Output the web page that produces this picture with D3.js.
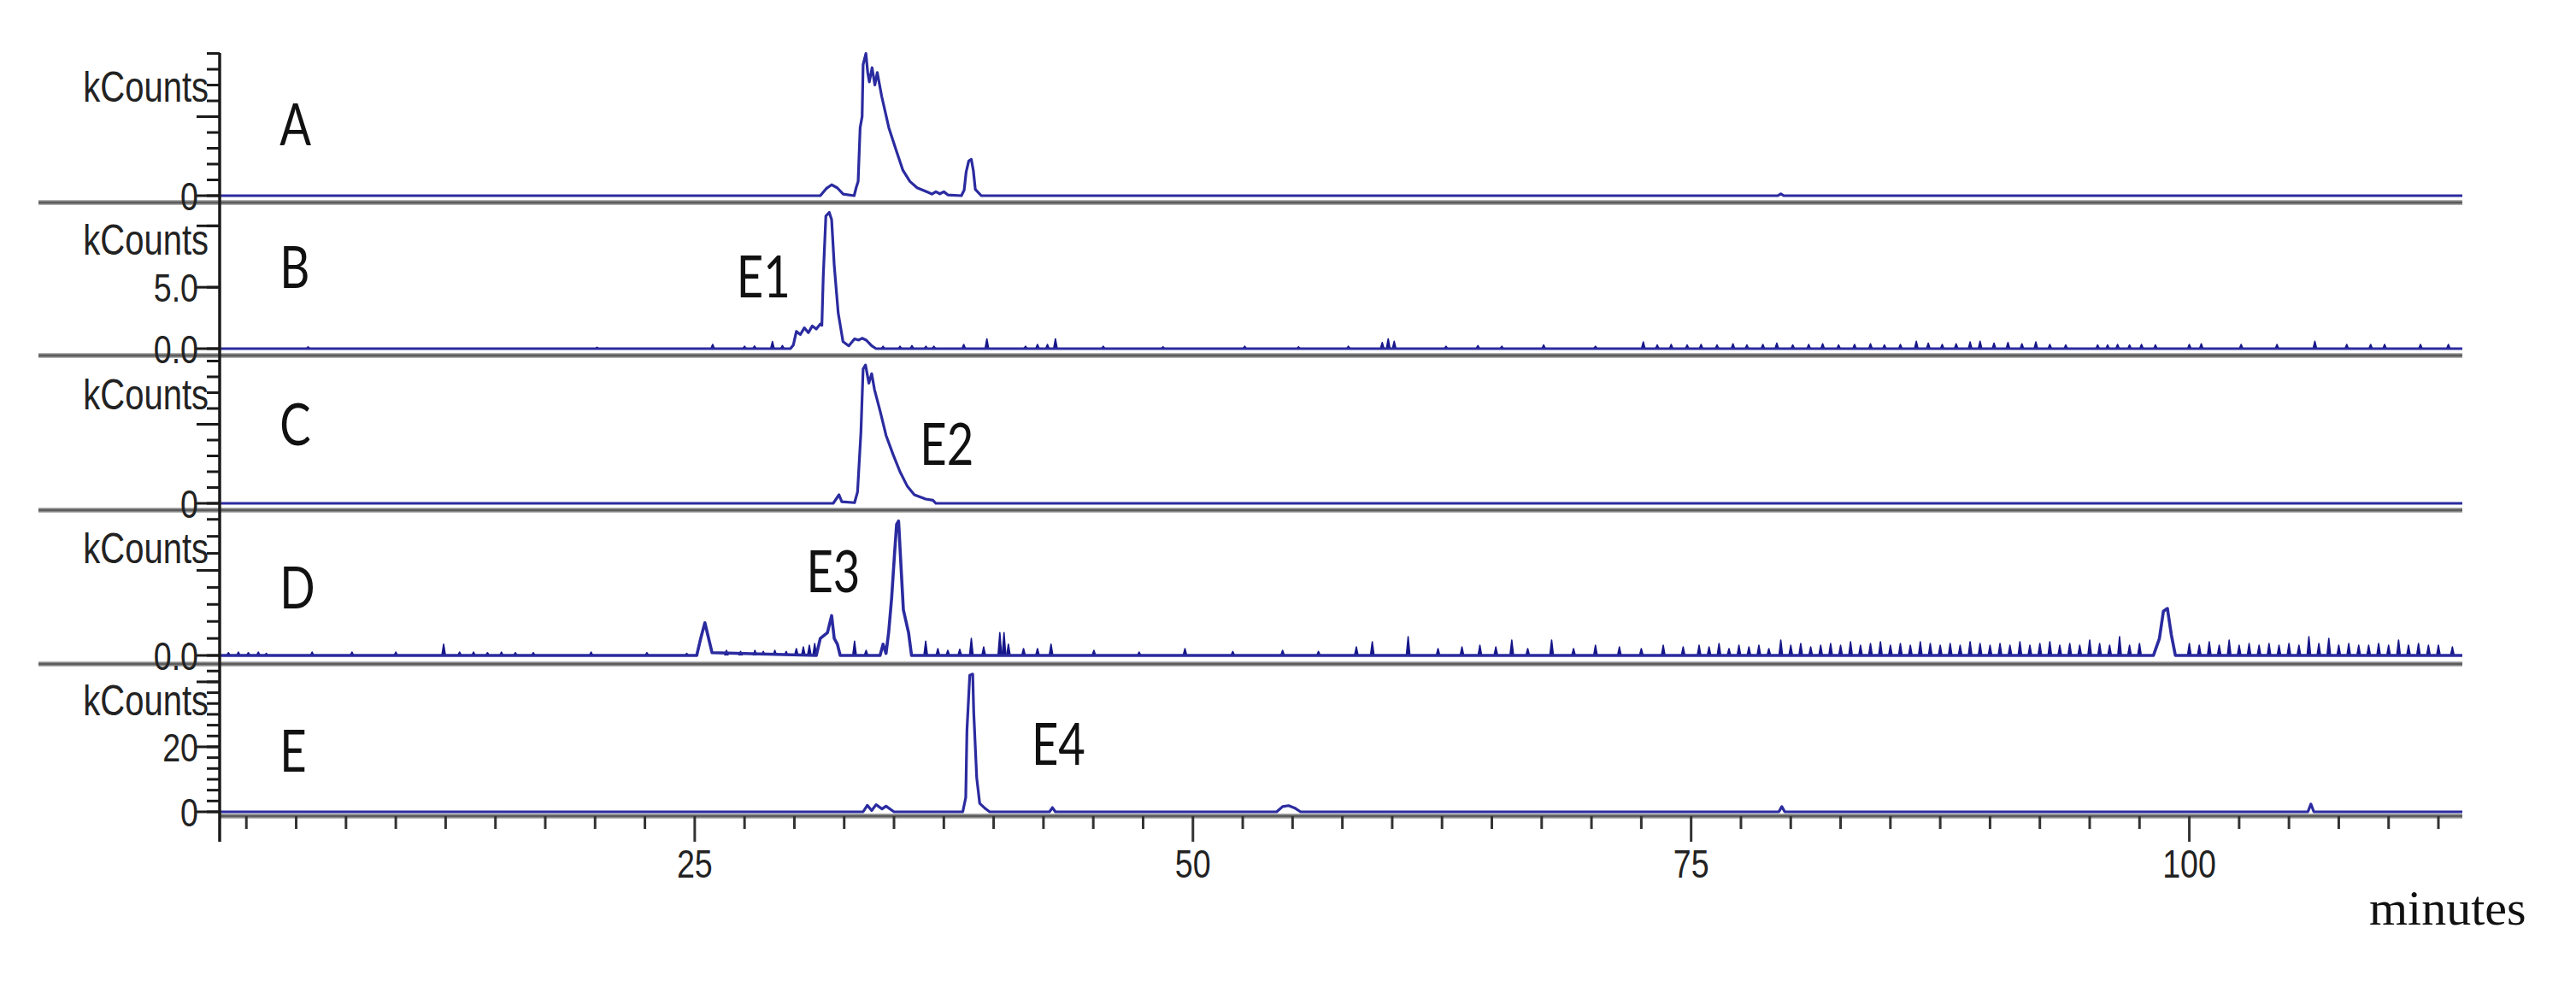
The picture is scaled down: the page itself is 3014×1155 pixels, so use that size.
<!DOCTYPE html>
<html>
<head>
<meta charset="utf-8">
<script src="https://cdn.jsdelivr.net/npm/d3@7"></script>
<style>
  html, body { margin: 0; padding: 0; background: #fff; }
  svg { display: block; }
</style>
</head>
<body>
<div id="chart"></div>
<script>
// Chromatogram traces, points are [minutes, kCounts]
const panelNames = ["A", "B", "C", "D", "E"]
const yMaxes = [9.03, 11.9, 9.35, 4.27, 45.5]

const traceA = [[1.16,0],[31.3,0],[31.6,0.45],[31.87,0.69],[32.15,0.5],[32.45,0.1],[33.0,0],[33.1,0.5],[33.2,0.9],
  [33.3,4.3],[33.4,5.0],[33.45,8.3],[33.59,9.0],[33.68,7.8],[33.76,7.2],[33.9,8.1],[34.04,7.0],[34.16,7.8],
  [34.38,6.3],[34.74,4.3],[35.1,2.9],[35.45,1.6],[35.8,0.9],[36.16,0.5],[36.73,0.2],[36.9,0.1],[37.1,0.25],
  [37.3,0.12],[37.5,0.25],[37.7,0.05],[38.38,0],[38.52,0.35],[38.62,1.5],[38.75,2.2],[38.88,2.3],[38.98,1.6],
  [39.08,0.4],[39.38,0],[79.35,0],[79.5,0.12],[79.65,0],[113.7,0]]

const traceB = [[1.16,0],[29.8,0],[29.95,0.3],[30.1,1.4],[30.3,1.15],[30.5,1.7],[30.7,1.3],[30.9,1.85],[31.1,1.6],
  [31.3,2.0],[31.38,1.9],[31.45,5.9],[31.58,10.8],[31.75,11.1],[31.87,10.5],[32.0,6.8],[32.2,2.9],[32.44,0.58],
  [32.73,0.23],[33.02,0.8],[33.23,0.7],[33.4,0.85],[33.6,0.7],[33.88,0.23],[34.1,0],[113.7,0]]

const traceC = [[1.16,0],[31.95,0],[32.24,0.54],[32.38,0.1],[33.02,0.04],[33.17,0.72],[33.34,4.5],[33.45,8.5],
  [33.57,8.75],[33.74,7.6],[33.88,8.2],[34.02,7.2],[34.31,5.8],[34.6,4.3],[34.95,3.1],[35.3,2.0],[35.66,1.1],
  [36.02,0.54],[36.59,0.27],[36.95,0.2],[37.1,0],[113.7,0]]

const traceD = [[1.16,0],[25.1,0],[25.3,0.5],[25.51,0.96],[25.73,0.42],[25.87,0.08],[31.1,0],[31.3,0.5],[31.66,0.67],
  [31.87,1.17],[32.0,0.5],[32.16,0.33],[32.3,0],[34.3,0],[34.45,0.33],[34.6,0.06],[34.73,0.67],[34.88,1.68],
  [35.02,2.93],[35.13,3.85],[35.23,3.95],[35.33,2.85],[35.47,1.34],[35.73,0.67],[35.88,0],[98.2,0],[98.5,0.5],
  [98.7,1.3],[98.9,1.38],[99.1,0.6],[99.3,0],[113.7,0]]

const traceE = [[1.16,0],[33.45,0],[33.66,2.0],[33.88,0.4],[34.1,2.2],[34.4,0.9],[34.6,1.75],[35.0,0],[38.45,0],
  [38.6,4.4],[38.66,25],[38.8,42],[38.95,42.4],[39.0,30.7],[39.15,10.5],[39.3,2.6],[39.6,0.9],[39.8,0],[42.8,0],
  [42.95,1.3],[43.1,0],[54.2,0],[54.5,1.6],[54.8,1.9],[55.1,1.2],[55.4,0],[79.4,0],[79.55,1.6],[79.7,0],
  [105.95,0],[106.1,2.4],[106.25,0],[113.7,0]]

// noise spikes on the baseline: [minutes, kCounts]
const spikesB = [[5.6,0.15],[20.1,0.12],[25.9,0.35],[27.5,0.2],[28.0,0.22],[28.9,0.58],[29.4,0.25],[34.45,0.2],
  [35.3,0.2],[35.9,0.25],[36.6,0.2],[37.0,0.2],[38.5,0.35],[39.66,0.8],[41.6,0.2],[42.2,0.35],[42.7,0.35],[43.1,0.8],
  [45.5,0.2],[48.5,0.15],[52.6,0.2],[55.3,0.15],[57.8,0.2],[59.5,0.5],[59.8,0.8],[60.1,0.6],[62.7,0.2],[64.3,0.25],
  [65.5,0.2],[67.6,0.3],[70.2,0.2],[72.6,0.55],[73.3,0.3],[74.0,0.35],[74.8,0.3],[75.5,0.35],[76.3,0.3],[77.1,0.4],
  [77.8,0.3],[78.6,0.35],[79.3,0.45],[80.1,0.3],[80.9,0.35],[81.6,0.4],[82.4,0.3],[83.2,0.35],[84.0,0.4],[84.7,0.3],
  [85.5,0.35],[86.3,0.6],[86.9,0.45],[87.6,0.35],[88.3,0.4],[89.0,0.55],[89.5,0.6],[90.2,0.45],[90.9,0.5],[91.6,0.4],
  [92.3,0.55],[93.0,0.35],[93.8,0.3],[95.4,0.3],[95.9,0.3],[96.4,0.35],[97.0,0.3],[97.6,0.35],[98.3,0.3],[100.0,0.35],
  [100.6,0.4],[102.6,0.35],[104.4,0.35],[106.3,0.6],[107.9,0.35],[109.1,0.35],[109.8,0.35],[111.6,0.35],[113.0,0.35]]

const spikesD = [[1.6,0.08],[2.1,0.1],[2.6,0.08],[3.1,0.1],[3.5,0.06],[5.8,0.1],[7.8,0.1],[10.0,0.1],[12.4,0.33],
  [13.2,0.1],[13.9,0.1],[14.6,0.08],[15.3,0.1],[16.0,0.08],[16.9,0.08],[19.8,0.1],[22.6,0.08],[24.6,0.06],
  [26.59,0.15],[27.3,0.12],[28.02,0.15],[28.44,0.12],[29.02,0.15],[29.59,0.12],[30.1,0.2],[30.45,0.25],[30.75,0.3],
  [31.02,0.35],[33.02,0.42],[33.6,0.15],[36.59,0.42],[37.2,0.2],[37.7,0.15],[38.3,0.18],[38.88,0.5],[39.5,0.25],
  [40.31,0.67],[40.52,0.67],[40.74,0.33],[41.5,0.2],[42.2,0.2],[42.88,0.33],[45.03,0.15],[47.3,0.1],[49.6,0.2],
  [52.0,0.12],[54.5,0.15],[56.3,0.12],[58.2,0.25],[59.0,0.4],[60.8,0.55],[62.3,0.2],[63.5,0.25],[64.4,0.3],
  [65.2,0.25],[66.0,0.45],[66.8,0.2],[68.0,0.45],[69.1,0.2],[70.2,0.3],[71.4,0.25],[72.5,0.2],[73.6,0.3],[74.6,0.25],
  [75.4,0.3],[75.9,0.25],[76.4,0.35],[76.9,0.2],[77.4,0.3],[77.9,0.25],[78.4,0.3],[78.9,0.2],[79.5,0.45],[80.0,0.3],
  [80.5,0.35],[81.0,0.25],[81.5,0.3],[82.0,0.35],[82.5,0.3],[83.0,0.4],[83.5,0.3],[84.0,0.35],[84.5,0.4],[85.0,0.3],
  [85.5,0.35],[86.0,0.3],[86.5,0.4],[87.0,0.35],[87.5,0.3],[88.0,0.35],[88.5,0.3],[89.0,0.4],[89.5,0.35],[90.0,0.3],
  [90.5,0.35],[91.0,0.3],[91.5,0.4],[92.0,0.3],[92.5,0.35],[93.0,0.4],[93.5,0.3],[94.0,0.35],[94.5,0.3],[95.0,0.45],
  [95.5,0.35],[96.0,0.3],[96.5,0.55],[97.0,0.3],[97.5,0.35],[100.0,0.35],[100.5,0.3],[101.0,0.4],[101.5,0.3],
  [102.0,0.45],[102.5,0.3],[103.0,0.35],[103.5,0.3],[104.0,0.35],[104.5,0.3],[105.0,0.35],[105.5,0.3],[106.0,0.55],
  [106.5,0.35],[107.0,0.5],[107.5,0.3],[108.0,0.35],[108.5,0.3],[109.0,0.3],[109.5,0.35],[110.0,0.3],[110.5,0.45],
  [111.0,0.3],[111.5,0.35],[112.0,0.3],[112.5,0.3],[113.2,0.25]]

// axis ticks and labels
const timeDomain = [1.16, 113.7]
const xMajorTicks = [25, 50, 75, 100]
const xMinorStep = 2.5
const yMinorSteps = [1, 5, 1, 0.5, 10 / 3]
const yMajorTicks = [[0, 5], [0, 5, 10], [0, 5], [0, 2.5], [0, 20, 40]]
const yTickLabels = [[[0, "0"]], [[0, "0.0"], [5, "5.0"]], [[0, "0"]], [[0, "0.0"]], [[0, "0"], [20, "20"]]]

// panel letters and peak labels: [panel, text, minutes, kCounts]
const annotations = [[0, "A", 4.17, 3.19], [1, "B", 4.17, 4.93], [2, "C", 4.17, 3.68], [3, "D", 4.17, 1.38],
  [4, "E", 4.17, 12.4], [1, "E1", 27.1, 4.17], [2, "E2", 36.3, 2.43], [3, "E3", 30.6, 1.86], [4, "E4", 41.9, 14.5]]

// Layout
const W = 3014, H = 1155
const axisX = 257, rightX = 2881, sepLeft = 45
const panelTops = [62, 237, 416, 597, 777]
const panelBottoms = [237, 416, 597, 777, 955]
const zeroLift = [8, 8, 8, 10, 5]
const traceColor = "#2b2ba0"
const noiseColor = "#16168a"
const axisFont = "'Liberation Sans', Arial, sans-serif"
const squeeze = 0.8

const svg = d3.select("#chart").append("svg")
  .attr("width", W)
  .attr("height", H)

svg.append("rect").attr("width", W).attr("height", H).attr("fill", "#fff")

const x = d3.scaleLinear().domain(timeDomain).range([axisX, rightX])

const traces = [traceA, traceB, traceC, traceD, traceE]
const spikes = [[], spikesB, [], spikesD, []]

// grey double rule used for panel separators and the time axis
function drawRule(x1, y) {
  svg.append("line")
    .attr("x1", x1).attr("x2", rightX).attr("y1", y).attr("y2", y)
    .attr("stroke", "#b0b0b0").attr("stroke-width", 6)
  svg.append("line")
    .attr("x1", x1).attr("x2", rightX).attr("y1", y).attr("y2", y)
    .attr("stroke", "#5c5c5c").attr("stroke-width", 3)
}

panelBottoms.slice(0, 4).forEach(function(b) { drawRule(sepLeft, b) })

// bottom time axis
const axisY = panelBottoms[4]
drawRule(axisX, axisY)

let xMinor = d3.range(xMinorStep, timeDomain[1], xMinorStep)
svg.selectAll("line.xtick").data(xMinor).enter().append("line")
  .attr("class", "xtick")
  .attr("x1", d => x(d)).attr("x2", d => x(d))
  .attr("y1", axisY)
  .attr("y2", d => xMajorTicks.includes(d) ? axisY + 30 : axisY + 15)
  .attr("stroke", "#333").attr("stroke-width", 3)

svg.selectAll("text.xlabel").data(xMajorTicks).enter().append("text")
  .attr("class", "xlabel")
  .attr("transform", d => `translate(${x(d)},${axisY + 72}) scale(${squeeze},1)`)
  .attr("text-anchor", "middle")
  .attr("font-family", axisFont)
  .attr("font-size", 47)
  .attr("fill", "#222")
  .text(d => d)

svg.append("text")
  .attr("x", 2772).attr("y", 1082)
  .attr("font-family", "'Liberation Serif', 'Times New Roman', serif")
  .attr("font-size", 58)
  .attr("fill", "#111")
  .text("minutes")

// Draw each chromatogram panel
let yScales = []
panelNames.forEach(function(name, i) {
  let y = d3.scaleLinear()
    .domain([0, yMaxes[i]])
    .range([panelBottoms[i] - zeroLift[i], panelTops[i]])
  yScales.push(y)

  let g = svg.append("g").attr("class", "panel-" + name)

  // y ticks
  let minor = d3.range(0, yMaxes[i] + 1e-6, yMinorSteps[i])
  g.selectAll("line.ytick").data(minor).enter().append("line")
    .attr("class", "ytick")
    .attr("x1", axisX - 15)
    .attr("x2", axisX)
    .attr("y1", d => y(d)).attr("y2", d => y(d))
    .attr("stroke", "#1a1a1a").attr("stroke-width", 3)
  g.selectAll("line.ymajor").data(yMajorTicks[i]).enter().append("line")
    .attr("class", "ymajor")
    .attr("x1", axisX - 27).attr("x2", axisX)
    .attr("y1", d => y(d)).attr("y2", d => y(d))
    .attr("stroke", "#1a1a1a").attr("stroke-width", 3)

  g.selectAll("text.ylabel").data(yTickLabels[i]).enter().append("text")
    .attr("class", "ylabel")
    .attr("transform", d => `translate(${axisX - 25},${y(d[0]) + 17}) scale(${squeeze},1)`)
    .attr("text-anchor", "end")
    .attr("font-family", axisFont)
    .attr("font-size", 47)
    .attr("fill", "#222")
    .text(d => d[1])

  g.append("text")
    .attr("transform", `translate(${axisX - 13},${panelBottoms[i] - 118}) scale(${squeeze},1)`)
    .attr("text-anchor", "end")
    .attr("font-family", axisFont)
    .attr("font-size", 50)
    .attr("fill", "#222")
    .text("kCounts")

  // baseline noise spikes, thin needles
  let line = d3.line().x(d => x(d[0])).y(d => y(d[1]))
  g.selectAll("path.spike").data(spikes[i]).enter().append("path")
    .attr("class", "spike")
    .attr("d", d => line([[d[0] - 0.09, 0], [d[0], d[1]], [d[0] + 0.09, 0]]))
    .attr("fill", noiseColor)
    .attr("stroke", noiseColor)
    .attr("stroke-width", 1.6)
    .attr("stroke-linejoin", "round")

  // trace
  g.append("path")
    .datum(traces[i])
    .attr("d", line)
    .attr("fill", "none")
    .attr("stroke", traceColor)
    .attr("stroke-width", i == 3 ? 3.6 : 3.2)
    .attr("stroke-linejoin", "round")
})

// y axis line
svg.append("line")
  .attr("x1", axisX).attr("x2", axisX)
  .attr("y1", panelTops[0]).attr("y2", axisY + 30)
  .attr("stroke", "#1a1a1a").attr("stroke-width", 3.5)

// panel letters and peak labels
svg.selectAll("text.note").data(annotations).enter().append("text")
  .attr("class", "note")
  .attr("transform", d => `translate(${x(d[2])},${yScales[d[0]](d[3])}) scale(${squeeze},1)`)
  .attr("font-family", "Lato, 'Open Sans', sans-serif")
  .attr("font-size", 68)
  .attr("fill", "#111")
  .text(d => d[1])
</script>
</body>
</html>
